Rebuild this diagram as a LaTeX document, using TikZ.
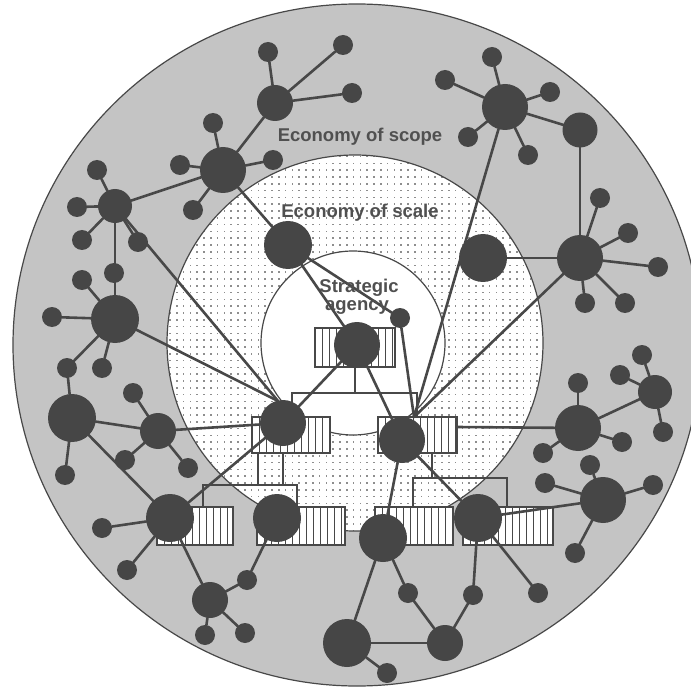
\documentclass[tikz,border=0pt]{standalone}
\usepackage{fontspec}
\setmainfont{Liberation Sans}
\usetikzlibrary{patterns}
\definecolor{nodec}{HTML}{464646}
\definecolor{linec}{HTML}{484848}
\definecolor{outerc}{HTML}{C4C4C4}
\definecolor{textc}{HTML}{505050}
\definecolor{dotc}{HTML}{8E8E8E}
\pgfdeclarelayer{bg}
\pgfdeclarelayer{ln}
\pgfsetlayers{bg,ln,main}
\pgfdeclarepatternformonly{middots}{\pgfqpoint{-1pt}{-1pt}}{\pgfqpoint{1pt}{1pt}}{\pgfqpoint{6.8pt}{6.8pt}}{\pgfpathrectangle{\pgfqpoint{-0.85pt}{-0.85pt}}{\pgfqpoint{1.7pt}{1.7pt}}\pgfusepath{fill}}
\begin{document}
\begin{tikzpicture}[x=1pt,y=-1pt,
  nd/.style={circle, fill=nodec, inner sep=0pt, outer sep=0pt, minimum size=#1},
  conn/.style={line width=2.6pt, draw=linec, line cap=round},
  org/.style={line width=1.3pt, draw=linec},
  ring/.style={line width=1.2pt, draw=linec},
  sbox/.style={draw=linec, line width=1.3pt, fill=white, inner sep=0pt, outer sep=0pt,
    path picture={\foreach \k in {1,...,13}{\draw[line width=0.9pt, linec]
      ([xshift=\k*7pt]path picture bounding box.south west) --
      ([xshift=\k*7pt]path picture bounding box.north west);}}},
  lab/.style={font=\bfseries\fontsize{18.5}{20}\selectfont, text=textc, anchor=base, inner sep=0pt}
]
\useasboundingbox (0,0) rectangle (691,687);

\begin{pgfonlayer}{bg}
  \fill[white] (0,0) rectangle (691,687);
  \fill[outerc] (357,345) ellipse [x radius=344pt, y radius=341pt];
  \draw[ring] (357,345) ellipse [x radius=344pt, y radius=341pt];
  \fill[white] (355,343) circle[radius=188pt];
  \fill[pattern=middots, pattern color=dotc] (355,343) circle[radius=188pt];
  \draw[ring] (355,343) circle[radius=188pt];
  \fill[white] (353,343) circle[radius=92pt];
  \draw[ring] (353,343) circle[radius=92pt];

  % striped boxes
  \node[sbox, minimum width=80pt, minimum height=39pt] (bc) at (355,347.5) {};
  \node[sbox, minimum width=78pt, minimum height=36pt] (lbox) at (291,435) {};
  \node[sbox, minimum width=79pt, minimum height=36pt] (rbox) at (417.5,435) {};
  \node[sbox, minimum width=76pt, minimum height=38pt] (LBbox) at (195,526) {};
  \node[sbox, minimum width=88pt, minimum height=38pt] (MBbox) at (301,526) {};
  \node[sbox, minimum width=78pt, minimum height=38pt] (MRBbox) at (414,526) {};
  \node[sbox, minimum width=90pt, minimum height=38pt] (RBbox) at (508,526) {};

  % organisation chart lines
  \coordinate (cb1) at (292,393); \coordinate (cb2) at (417,393);
  \draw[org] (bc.south) -- (bc.south |- cb1);
  \draw[org] (cb1 |- lbox.north) -- (cb1) -- (cb2) -- (cb2 |- rbox.north);
  \coordinate (lb1) at (203,485); \coordinate (lb2) at (297,485);
  \coordinate (ls1) at (258,485); \coordinate (ls2) at (283,485);
  \draw[org] (ls1 |- lbox.south) -- (ls1);
  \draw[org] (ls2 |- lbox.south) -- (ls2);
  \draw[org] (lb1 |- LBbox.north) -- (lb1) -- (lb2) -- (lb2 |- MBbox.north);
  \coordinate (rb1) at (413,478); \coordinate (rb2) at (507,478); \coordinate (rs) at (432,478);
  \draw[org] (rs |- rbox.south) -- (rs);
  \draw[org] (rb1 |- MRBbox.north) -- (rb1) -- (rb2) -- (rb2 |- RBbox.north);
\end{pgfonlayer}

% hubs
\node[nd=46pt] (H0) at (357,345) {};
\node[nd=46pt] (HL) at (283,423) {};
\node[nd=46pt] (HR) at (402,440) {};
\node[nd=48pt] (LB) at (170,518) {};
\node[nd=48pt] (MB) at (277,518) {};
\node[nd=48pt] (MRB) at (383,538) {};
\node[nd=48pt] (RB) at (478,518) {};
\coordinate (convL) at (278,401);
\coordinate (convR) at (414,417);

% top-left clusters
\node[nd=46pt] (A1) at (223,170) {};
\node[nd=20pt] (a1) at (213,123) {};
\node[nd=20pt] (a2) at (180,165) {};
\node[nd=20pt] (a3) at (273,160) {};
\node[nd=20pt] (a4) at (193,210) {};
\node[nd=36pt] (A2) at (275,103) {};
\node[nd=20pt] (b1) at (268,52) {};
\node[nd=20pt] (b2) at (343,45) {};
\node[nd=20pt] (b3) at (352,93) {};
\node[nd=34pt] (A3) at (115,206) {};
\node[nd=20pt] (c1) at (97,170) {};
\node[nd=20pt] (c2) at (77,207) {};
\node[nd=20pt] (c3) at (82,240) {};
\node[nd=20pt] (c4) at (138,242) {};
\node[nd=20pt] (c5) at (114,273) {};
\node[nd=48pt] (A4) at (115,319) {};
\node[nd=20pt] (d1) at (52,317) {};
\node[nd=20pt] (d2) at (82,280) {};
\node[nd=20pt] (d3) at (102,368) {};
\node[nd=20pt] (d4) at (67,368) {};
\node[nd=48pt] (A5) at (72,418) {};
\node[nd=20pt] (e1) at (65,475) {};
\node[nd=36pt] (A6) at (158,431) {};
\node[nd=20pt] (f1) at (133,393) {};
\node[nd=20pt] (f2) at (125,460) {};
\node[nd=20pt] (f3) at (188,468) {};
\node[nd=48pt] (A7) at (288,245) {};
\node[nd=20pt] (s0) at (400,318) {};

% top-right clusters
\node[nd=46pt] (B1) at (505,107) {};
\node[nd=20pt] (g1) at (492,57) {};
\node[nd=20pt] (g2) at (445,80) {};
\node[nd=20pt] (g3) at (550,92) {};
\node[nd=20pt] (g4) at (468,137) {};
\node[nd=20pt] (g5) at (528,155) {};
\node[nd=35pt] (B2) at (580,130) {};
\node[nd=46pt] (B3) at (580,258) {};
\node[nd=20pt] (h1) at (600,198) {};
\node[nd=20pt] (h2) at (628,233) {};
\node[nd=20pt] (h3) at (658,267) {};
\node[nd=20pt] (h4) at (625,303) {};
\node[nd=20pt] (h5) at (585,303) {};
\node[nd=48pt] (B4) at (483,258) {};

% right clusters
\node[nd=46pt] (C1) at (578,428) {};
\node[nd=20pt] (i1) at (578,383) {};
\node[nd=20pt] (i2) at (543,453) {};
\node[nd=20pt] (i3) at (622,442) {};
\node[nd=34pt] (C2) at (655,392) {};
\node[nd=20pt] (j1) at (620,375) {};
\node[nd=20pt] (j2) at (642,355) {};
\node[nd=20pt] (j3) at (663,432) {};
\node[nd=46pt] (C3) at (603,500) {};
\node[nd=20pt] (k1) at (590,465) {};
\node[nd=20pt] (k2) at (545,483) {};
\node[nd=20pt] (k3) at (653,485) {};
\node[nd=20pt] (k4) at (575,553) {};

% bottom clusters
\node[nd=20pt] (l1) at (102,528) {};
\node[nd=20pt] (l2) at (127,570) {};
\node[nd=36pt] (A8) at (210,600) {};
\node[nd=20pt] (l3) at (205,635) {};
\node[nd=20pt] (l4) at (245,633) {};
\node[nd=20pt] (l5) at (247,580) {};
\node[nd=48pt] (D1) at (347,643) {};
\node[nd=36pt] (D2) at (445,643) {};
\node[nd=20pt] (m1) at (408,593) {};
\node[nd=20pt] (m2) at (387,673) {};
\node[nd=20pt] (m3) at (473,595) {};
\node[nd=20pt] (m4) at (538,593) {};

\begin{pgfonlayer}{ln}
  \foreach \p/\q in {A1/A2, A1/A3, A1/A7, A1/a1, A1/a2, A1/a3, A1/a4,
      A2/b1, A2/b2, A2/b3,
      A3/c1, A3/c2, A3/c3, A3/c4, A3/A4, A3/convL,
      A4/d1, A4/d2, A4/d3, A4/d4, d4/A5, A4/convL,
      A5/e1, A5/A6, A5/LB,
      A6/f1, A6/f2, A6/f3, A6/HL,
      A7/H0, A7/s0, s0/convR,
      H0/HL, H0/HR,
      B1/g1, B1/g2, B1/g3, B1/g4, B1/g5, B1/B2, B2/B3, B1/convR,
      B3/h1, B3/h2, B3/h3, B3/h4, B3/h5, B3/B4, B3/convR,
      C1/i1, C1/i2, C1/i3, C1/C2, C2/j1, C2/j2, C2/j3,
      C3/k1, C3/k2, C3/k3, C3/k4, C3/RB,
      HL/LB, LB/l1, LB/l2, LB/A8, A8/l3, A8/l4, A8/l5, l5/MB,
      HR/MRB, HR/RB,
      MRB/D1, MRB/m1, m1/D2, D1/D2, D1/m2, RB/m3, m3/D2, RB/m4}
    {\draw[conn] (\p) -- (\q);}
  \draw[conn] ([yshift=8pt]rbox.east) -- (C1);
\end{pgfonlayer}

% labels
\node[lab] (t1) at (360,142) {Economy of scope};
\node[lab] (t2) at (360,218) {Economy of scale};
\node[lab] (t3) at (359,292) {Strategic};
\node[lab] (t4) at (357,310) {agency};
\end{tikzpicture}
\end{document}
